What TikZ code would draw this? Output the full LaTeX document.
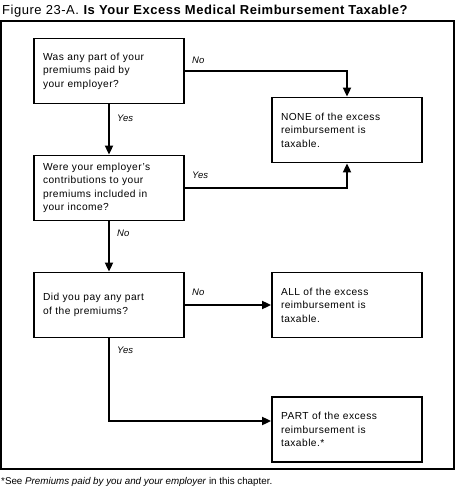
\documentclass[tikz,border=0pt]{standalone}
\usepackage{fontspec}
\setmainfont{Liberation Sans}
\usetikzlibrary{arrows.meta,positioning,calc}
\begin{document}
\begin{tikzpicture}[x=1pt,y=-1pt,
  box/.style={draw,line width=1.8pt,minimum width=150pt,minimum height=65pt,
    text width=132pt,inner xsep=9pt,align=left,font=\fontsize{10.2}{13.5}\selectfont\addfontfeatures{LetterSpace=4.5}},
  arr/.style={line width=1.8pt,-{Triangle[width=8pt,length=9pt]}},
  lbl/.style={anchor=west,inner sep=0pt,font=\fontsize{9.5}{11}\selectfont\itshape}]
\useasboundingbox (0,0) rectangle (458,494);
\node[anchor=base west,inner sep=0pt,font=\fontsize{13}{14}\selectfont\addfontfeatures{LetterSpace=4}] (title) at (2,15)
  {Figure 23-A. \textbf{Is Your Excess Medical Reimbursement Taxable?}};
\node[draw,line width=1.8pt,minimum width=453pt,minimum height=448pt,inner sep=0pt] (frame) at (227.5,245) {};
\node[box] (b1) at (109,71) {Was any part of your\\premiums paid by\\your employer?};
\node[box] (b2) at (109,188) {Were your employer's\\contributions to your\\premiums included in\\your income?};
\node[box] (b3) at (109,305) {Did you pay any part\\of the premiums?};
\node[box] (none) at (347,130) {NONE of the excess\\reimbursement is\\taxable.};
\node[box] (all) at (347,305) {ALL of the excess\\reimbursement is\\taxable.};
\node[box] (part) at (347,429.5) {PART of the excess\\reimbursement is\\taxable.*};
\draw[arr] (b1.east) -| (none.north);
\draw[arr] (b2.east) -| (none.south);
\draw[arr] (b1.south) -- (b2.north);
\draw[arr] (b2.south) -- (b3.north);
\draw[arr] (b3.east) -- (all.west);
\draw[arr] (b3.south) |- ([yshift=8.5pt]part.west);
\node[lbl] (l1) at (192,60) {No};
\node[lbl] (l2) at (117,118) {Yes};
\node[lbl] (l3) at (192,175) {Yes};
\node[lbl] (l4) at (117,233) {No};
\node[lbl] (l5) at (192,292) {No};
\node[lbl] (l6) at (117,350) {Yes};
\node[anchor=base west,inner sep=0pt,font=\fontsize{9.8}{11}\selectfont] (foot) at (1,484)
  {*See \textit{Premiums paid by you and your employer} in this chapter.};
\end{tikzpicture}
\end{document}
